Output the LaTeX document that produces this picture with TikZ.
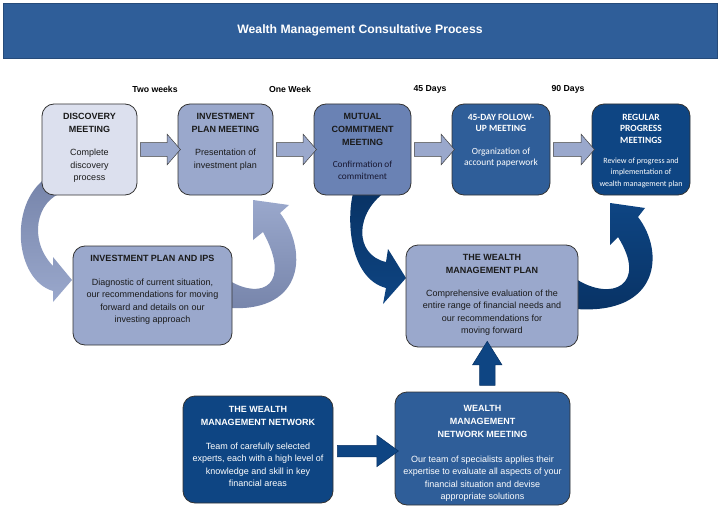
\documentclass[tikz,border=0pt]{standalone}
\usepackage{fontspec}
\setmainfont{Liberation Sans}
\newfontfamily\calibri{Carlito}
\usetikzlibrary{positioning,calc,shapes.arrows}
\definecolor{wmlight}{RGB}{220,224,238}
\definecolor{wmmid}{RGB}{154,168,204}
\definecolor{wmmiddark}{RGB}{118,132,170}
\definecolor{wmsteel}{RGB}{106,130,180}
\definecolor{wmblue}{RGB}{47,94,153}
\definecolor{wmnavy}{RGB}{14,69,131}
\definecolor{wmnavydark}{RGB}{8,50,100}
\definecolor{wmink}{RGB}{26,26,26}

\tikzset{
  stage/.style={draw=black!80, line width=0.8pt, rounded corners=12pt, inner sep=0pt},
  head/.style={font=\fontsize{9}{13}\selectfont\bfseries, align=center, inner sep=0pt, text=wmink},
  body/.style={font=\fontsize{9}{12.5}\selectfont, align=center, inner sep=0pt, text=wmink},
  chead/.style={font=\calibri\fontsize{9.5}{11.2}\selectfont\bfseries, align=center, inner sep=0pt, text=white},
  cbody/.style={font=\calibri\fontsize{9.4}{11.2}\selectfont, align=center, inner sep=0pt, text=white},
  span/.style={font=\fontsize{8.7}{10}\selectfont\bfseries, inner sep=0pt},
  blockarr/.style={single arrow, draw=black!75, line width=0.5pt, fill=wmmid, inner xsep=0pt,
    inner ysep=6.5pt, single arrow head extend=8.5pt, single arrow tip angle=98},
  navyarr/.style={single arrow, draw=wmnavydark, line width=0.5pt, fill=wmnavy, inner xsep=0pt},
}

\begin{document}
\begin{tikzpicture}[x=1pt,y=-1pt]
  \useasboundingbox (0,0) rectangle (720,508);

  % title bar
  \node[draw=wmblue!80!black, fill=wmblue, minimum width=714, minimum height=55, inner sep=0pt,
        text=white, font=\fontsize{12.2}{14}\selectfont\bfseries] (title) at (360,30.5)
        {Wealth Management Consultative Process};

  % curved ribbons (behind the boxes)
  \shade[top color=wmmiddark, bottom color=wmmid]
    (64,192) .. controls (36,200) and (28,240) .. (53,266) -- (53,257) -- (72,280) -- (53,302)
    -- (53,291) .. controls (15,280) and (8,205) .. (46,178) -- cycle;
  \shade[top color=wmmid, bottom color=wmmiddark]
    (212,281) -- (230,281) .. controls (262,300) and (292,285) .. (263,232) -- (253,240)
    -- (253,200) -- (289,205) -- (280,213) .. controls (308,250) and (305,312) .. (230,308)
    -- (212,308) -- cycle;
  \shade[top color=wmnavydark, bottom color=wmnavy]
    (388,190) .. controls (354,212) and (354,255) .. (386,262) -- (388,249) -- (406,278)
    -- (383,304) -- (386,288) .. controls (348,278) and (346,215) .. (354,190) -- cycle;
  \shade[top color=wmnavy, bottom color=wmnavydark]
    (560,279) -- (576,279) .. controls (612,302) and (648,285) .. (618,237) -- (610,245)
    -- (610,203) -- (645,208) -- (638,217) .. controls (665,252) and (660,315) .. (576,309)
    -- (560,309) -- cycle;

  % top row
  \node[stage, fill=wmlight, minimum width=95, minimum height=91] (disc) at (89.5,149.5) {};
  \node[stage, fill=wmmid, minimum width=95, minimum height=91] (ipm) at (225.5,149.5) {};
  \node[stage, fill=wmsteel, minimum width=97, minimum height=91] (mcm) at (362.5,149.5) {};
  \node[stage, fill=wmblue, minimum width=98, minimum height=91] (fup) at (501,149.5) {};
  \node[stage, fill=wmnavy, minimum width=98, minimum height=91] (rpm) at (641,149.5) {};

  \node[span] (t-two) at (155,89) {Two weeks};
  \node[span] (t-one) at (290,89) {One Week};
  \node[span] (t-45) at (430,89) {45 Days};
  \node[span] (t-90) at (568,89) {90 Days};

  \node[head, anchor=north] (disc-h) at ([yshift=-9.7pt]disc.north) {DISCOVERY\\MEETING};
  \node[body, below=16pt of disc-h] (disc-b) {Complete\\discovery\\process};
  \node[head, anchor=north] (ipm-h) at ([yshift=-9.7pt]ipm.north) {INVESTMENT\\PLAN MEETING};
  \node[body, below=16pt of ipm-h] (ipm-b) {Presentation of\\investment plan};
  \node[head, anchor=north] (mcm-h) at ([yshift=-9.7pt]mcm.north) {MUTUAL\\COMMITMENT\\MEETING};
  \node[cbody, text=wmink!90!blue, font=\calibri\fontsize{9.3}{12}\selectfont, below=15pt of mcm-h] (mcm-b)
    {Confirmation of\\commitment};
  \node[chead, anchor=north] (fup-h) at ([yshift=-10pt]fup.north) {45-DAY FOLLOW-\\UP MEETING};
  \node[cbody, below=16pt of fup-h] (fup-b) {Organization of\\account paperwork};
  \node[chead, anchor=north, font=\calibri\fontsize{9.5}{11.5}\selectfont\bfseries] (rpm-h)
    at ([yshift=-10pt]rpm.north) {REGULAR\\PROGRESS\\MEETINGS};
  \node[cbody, font=\calibri\fontsize{8}{11.5}\selectfont, below=14pt of rpm-h] (rpm-b)
    {Review of progress and\\implementation of\\wealth management plan};

  \node[blockarr, minimum height=40] (a1) at ($(disc.east)!.5!(ipm.west)$) {};
  \node[blockarr, minimum height=40] (a2) at ($(ipm.east)!.5!(mcm.west)$) {};
  \node[blockarr, minimum height=40] (a3) at ($(mcm.east)!.5!(fup.west)$) {};
  \node[blockarr, minimum height=41] (a4) at ($(fup.east)!.5!(rpm.west)$) {};

  % middle row
  \node[stage, fill=wmmid, minimum width=159, minimum height=99] (ips) at (152.5,295.5) {};
  \node[head, anchor=north] (ips-h) at ([yshift=-9.7pt]ips.north) {INVESTMENT PLAN AND IPS};
  \node[body, below=16.5pt of ips-h] (ips-b)
    {Diagnostic of current situation,\\our recommendations for moving\\forward and details on our\\investing approach};

  \node[stage, fill=wmmid, minimum width=172, minimum height=102] (wmp) at (492,296) {};
  \node[head, anchor=north] (wmp-h) at ([yshift=-9.7pt]wmp.north) {THE WEALTH\\MANAGEMENT PLAN};
  \node[body, below=15.4pt of wmp-h] (wmp-b)
    {Comprehensive evaluation of the\\entire range of financial needs and\\our recommendations for\\moving forward};

  % bottom row
  \node[stage, fill=wmnavy, minimum width=150, minimum height=107] (net) at (258,449.5) {};
  \node[head, text=white, anchor=north] (net-h) at ([yshift=-10.7pt]net.north)
    {THE WEALTH\\MANAGEMENT NETWORK};
  \node[body, text=white, below=16.4pt of net-h] (net-b)
    {Team of carefully selected\\experts, each with a high level of\\knowledge and skill in key\\financial areas};

  \node[stage, fill=wmblue, minimum width=175, minimum height=113] (nmt) at (482.5,448.5) {};
  \node[head, text=white, anchor=north] (nmt-h) at ([yshift=-13.7pt]nmt.north)
    {WEALTH\\MANAGEMENT\\NETWORK MEETING};
  \node[body, text=white, below=17.4pt of nmt-h] (nmt-b)
    {Our team of specialists applies their\\expertise to evaluate all aspects of your\\financial situation and devise\\appropriate solutions};

  \node[navyarr, minimum height=61, inner ysep=5.5pt, single arrow head extend=10pt,
        single arrow tip angle=72] (a5) at ([yshift=-2pt]$(net.east)!.5!(nmt.west)$) {};
  \node[navyarr, minimum height=44, inner ysep=7.5pt, single arrow head extend=7pt,
        single arrow tip angle=64, rotate=90] (a6) at ($(nmt.north)!.5!(wmp.south)$) {};
\end{tikzpicture}
\end{document}
